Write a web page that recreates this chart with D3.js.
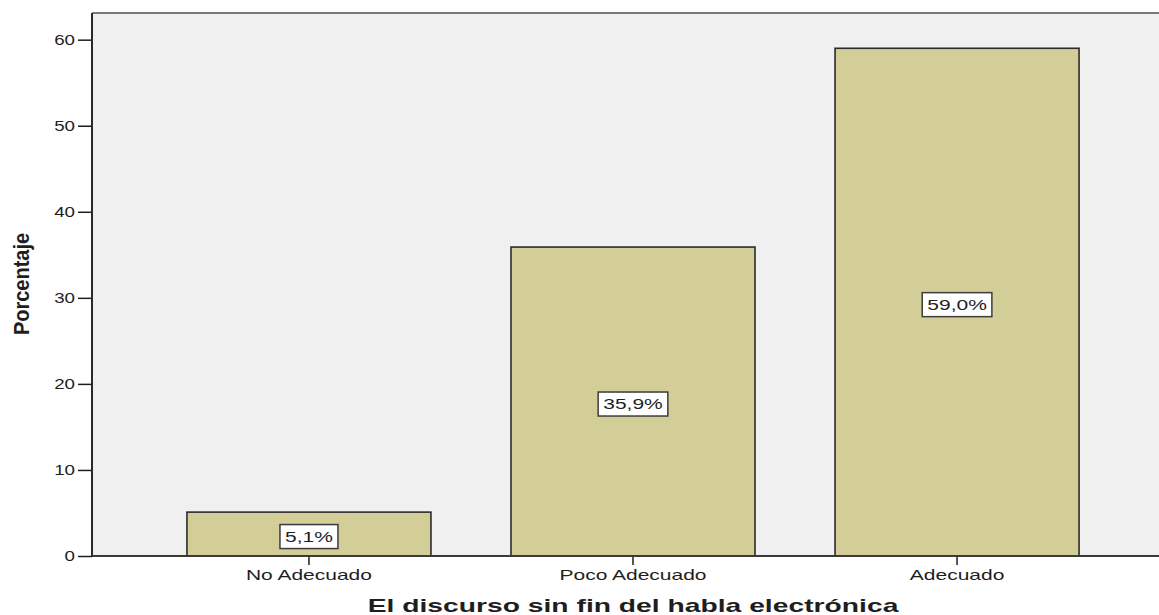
<!DOCTYPE html>
<html>
<head>
<meta charset="utf-8">
<script src="https://cdn.jsdelivr.net/npm/d3@7"></script>
<style>
  body { margin: 0; background: #fff; }
  text { font-family: "Liberation Sans", Arial, sans-serif; fill: #1e1e1e; }
</style>
</head>
<body>
<svg width="1159" height="615"></svg>
<script>
var categories = ["No Adecuado", "Poco Adecuado", "Adecuado"];
var percentages = [5.1, 35.9, 59.0];
var yTicks = [0, 10, 20, 30, 40, 50, 60];
var xTitle = "El discurso sin fin del habla electrónica";
var yTitle = "Porcentaje";

var svg = d3.select("svg"),
    margin = {top: 13, left: 92, bottom: 59},
    plotRight = 1174,
    height = +svg.attr("height") - margin.top - margin.bottom;

var data = categories.map(function(c, i) { return {name: c, value: percentages[i]}; });

var x = d3.scaleBand().domain(categories)
    .range([margin.left, plotRight])
    .paddingInner(0.247).paddingOuter(0.293);
var y = d3.scaleLinear().domain([0, 63.1]).range([margin.top + height, margin.top]);

var fmt = function(v) { return d3.format(".1f")(v).replace(".", ",") + "%"; };

// plot background
svg.append("rect")
    .attr("x", margin.left).attr("y", margin.top)
    .attr("width", plotRight - margin.left).attr("height", height)
    .attr("fill", "#f0f0f0");

// top frame line
svg.append("line")
    .attr("x1", margin.left).attr("x2", 1159)
    .attr("y1", margin.top).attr("y2", margin.top)
    .attr("stroke", "#7a7a7a").attr("stroke-width", 2);

// bars
svg.selectAll(".bar").data(data).enter().append("rect")
    .attr("class", "bar")
    .attr("x", function(d) { return x(d.name); })
    .attr("y", function(d) { return y(d.value); })
    .attr("width", x.bandwidth())
    .attr("height", function(d) { return y(0) - y(d.value); })
    .attr("fill", "#d3ce97")
    .attr("stroke", "#2b2b2b")
    .attr("stroke-width", 1.6);

// y axis
var yAxis = svg.append("g")
    .attr("transform", "translate(" + margin.left + ",0)")
    .call(d3.axisLeft(y).tickValues(yTicks).tickSize(14).tickPadding(3).tickSizeOuter(0));
yAxis.select(".domain").remove();
yAxis.selectAll(".tick line").attr("stroke", "#1e1e1e").attr("stroke-width", 1.5);
yAxis.selectAll(".tick text")
    .attr("font-size", 15)
    .attr("font-family", null)
    .attr("x", -17 / 1.25)
    .attr("transform", "scale(1.25,1)");

// x axis
var xAxis = svg.append("g")
    .attr("transform", "translate(0," + y(0) + ")")
    .call(d3.axisBottom(x).tickSize(9).tickPadding(5).tickSizeOuter(0));
xAxis.select(".domain").remove();
xAxis.selectAll(".tick line").attr("stroke", "#1e1e1e").attr("stroke-width", 1.5);
xAxis.selectAll(".tick text")
    .attr("font-size", 14)
    .attr("font-family", null)
    .attr("transform", "scale(1.5,1)")
    .attr("x", 0);

// axis lines
svg.append("line")
    .attr("x1", margin.left).attr("x2", 1159)
    .attr("y1", y(0)).attr("y2", y(0))
    .attr("stroke", "#3a3a3a").attr("stroke-width", 2);
svg.append("line")
    .attr("x1", margin.left).attr("x2", margin.left)
    .attr("y1", margin.top).attr("y2", y(0))
    .attr("stroke", "#2a2a2a").attr("stroke-width", 2);

// value labels
var labels = svg.selectAll(".lbl").data(data).enter().append("g")
    .attr("class", "lbl")
    .attr("transform", function(d) {
      return "translate(" + (x(d.name) + x.bandwidth() / 2) + "," + ((y(d.value) + y(0)) / 2 + 2.5) + ")";
    });
labels.each(function(d) {
  var g = d3.select(this);
  var rect = g.append("rect");
  var t = g.append("text")
      .attr("text-anchor", "middle")
      .attr("dy", "0.36em")
      .attr("font-size", 14)
      .attr("transform", "scale(1.5,1)")
      .text(fmt(d.value));
  var w = t.node().getBBox().width * 1.5 + 10;
  rect.attr("x", -w / 2).attr("y", -12)
      .attr("width", w).attr("height", 24)
      .attr("fill", "#fff")
      .attr("stroke", "#3c3c3c").attr("stroke-width", 1.5);
});

// axis titles
svg.append("text")
    .attr("transform", "translate(" + ((margin.left + plotRight) / 2) + ",612) scale(1.57,1)")
    .attr("text-anchor", "middle")
    .attr("font-size", 18)
    .attr("font-weight", "bold")
    .text(xTitle);

svg.append("text")
    .attr("transform", "translate(29," + 284 + ") rotate(-90) scale(1,1.12)")
    .attr("text-anchor", "middle")
    .attr("font-size", 20)
    .attr("font-weight", "bold")
    .text(yTitle);
</script>
</body>
</html>
